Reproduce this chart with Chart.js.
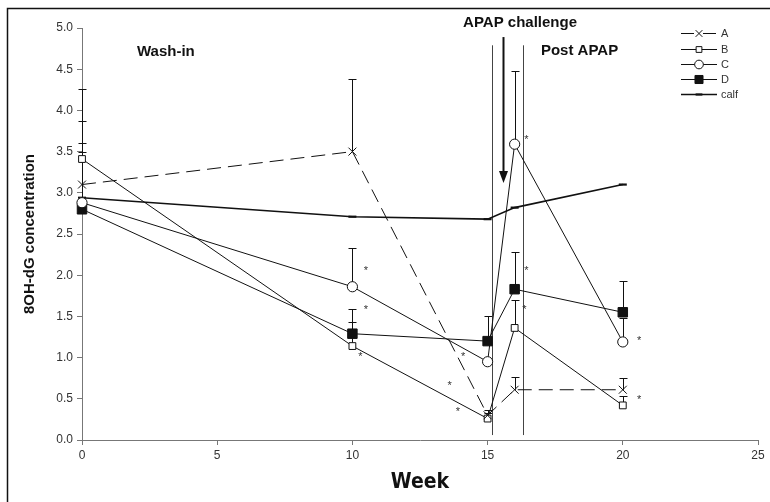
<!DOCTYPE html>
<html>
<head>
<meta charset="utf-8">
<script src="https://cdn.jsdelivr.net/npm/chart.js@4/dist/chart.umd.min.js"></script>
<style>
  body { margin: 0; background: #fff; }
  #wrap { width: 770px; height: 502px; }
</style>
</head>
<body>
<div id="wrap"><canvas id="line-chart" width="770" height="502"></canvas></div>
<script>
// values
var weeks = [0, 10, 15, 16, 20];
var seriesA = [3.10, 3.50, 0.30, 0.61, 0.61];
var seriesB = [3.41, 1.14, 0.26, 1.36, 0.42];
var seriesC = [2.88, 1.86, 0.95, 3.59, 1.19];
var seriesD = [2.80, 1.29, 1.20, 1.83, 1.55];
var seriesCalf = [2.94, 2.71, 2.68, 2.82, 3.10];

// upper end of the error bars (null = none)
var errA = [4.26, 4.38, 0.37, 0.76, 0.75];
var errB = [3.61, 1.43, 0.33, 1.70, 0.53];
var errC = [3.87, 2.33, null, 4.48, 1.48];
var errD = [3.50, 1.59, 1.50, 2.28, 1.93];

var xTicks = [0, 5, 10, 15, 20, 25];
var yTicks = [0, 0.5, 1, 1.5, 2, 2.5, 3, 3.5, 4, 4.5, 5];

// significance stars (week, value)
var starWeek = [10.5, 10.5, 10.3, 14.1, 13.6, 13.9, 16.43, 16.43, 16.36, 20.6, 20.6];
var starVal = [2.07, 1.60, 1.03, 1.03, 0.68, 0.36, 3.67, 2.08, 1.60, 1.23, 0.51];

// phase markers
var phaseLines = [15.15, 16.32];
var arrowWeek = 15.56;
var phaseText = ['Wash-in', 'APAP challenge', 'Post APAP'];
var phaseTextWeek = [3.1, 16.2, 18.4];
var phaseTextVal = [4.71, 5.06, 4.72];

function pts(ys) {
    var out = [];
    for (var i = 0; i < weeks.length; i++) {
        out.push({ x: weeks[i], y: ys[i] });
    }
    return out;
}

var datasets = [
    { label: 'A', data: pts(seriesA), err: errA, borderDash: [14, 7], pointStyle: 'crossRot', pointRadius: 5.6, pointBackgroundColor: '#fff' },
    { label: 'B', data: pts(seriesB), err: errB, pointStyle: 'rect', pointRadius: 4.8, pointBackgroundColor: '#fff' },
    { label: 'C', data: pts(seriesC), err: errC, pointStyle: 'circle', pointRadius: 5.1, pointBackgroundColor: '#fff' },
    { label: 'D', data: pts(seriesD), err: errD, pointStyle: 'rect', pointRadius: 6.7, pointBackgroundColor: '#111' },
    { label: 'calf', data: pts(seriesCalf), err: null, pointStyle: 'line', pointRadius: 4, pointBorderWidth: 2.2, borderWidth: 1.6, pointBackgroundColor: '#111' }
];
datasets.forEach(function (d) {
    d.borderColor = '#111';
    d.pointBorderColor = '#111';
    if (d.borderWidth === undefined) d.borderWidth = 1;
    if (d.pointBorderWidth === undefined) d.pointBorderWidth = 1;
    d.fill = false;
    d.tension = 0;
    d.clip = false;
});

var extras = {
    id: 'extras',
    beforeDatasetsDraw: function (chart) {
        var ctx = chart.ctx, xs = chart.scales.x, ys = chart.scales.y;
        ctx.save();
        ctx.strokeStyle = '#111';
        ctx.lineWidth = 1;
        // error bars
        datasets.forEach(function (d) {
            if (!d.err) return;
            for (var i = 0; i < weeks.length; i++) {
                if (d.err[i] == null) continue;
                var px = Math.round(xs.getPixelForValue(weeks[i])) + 0.5;
                var y0 = ys.getPixelForValue(d.data[i].y);
                var y1 = Math.round(ys.getPixelForValue(d.err[i])) + 0.5;
                ctx.beginPath();
                ctx.moveTo(px, y0);
                ctx.lineTo(px, y1);
                ctx.moveTo(px - 4, y1);
                ctx.lineTo(px + 4, y1);
                ctx.stroke();
            }
        });
        // phase lines
        ctx.strokeStyle = '#444';
        phaseLines.forEach(function (w) {
            var px = Math.round(xs.getPixelForValue(w)) + 0.5;
            ctx.beginPath();
            ctx.moveTo(px, ys.getPixelForValue(4.79));
            ctx.lineTo(px, ys.getPixelForValue(0.06));
            ctx.stroke();
        });
        // arrow
        var ax = Math.round(xs.getPixelForValue(arrowWeek)) + 0.5;
        var aTop = ys.getPixelForValue(4.89);
        var aTip = ys.getPixelForValue(3.12);
        ctx.strokeStyle = '#111';
        ctx.lineWidth = 2;
        ctx.beginPath();
        ctx.moveTo(ax, aTop);
        ctx.lineTo(ax, aTip - 10);
        ctx.stroke();
        ctx.fillStyle = '#111';
        ctx.beginPath();
        ctx.moveTo(ax - 4.5, aTip - 12);
        ctx.lineTo(ax + 4.5, aTip - 12);
        ctx.lineTo(ax, aTip);
        ctx.closePath();
        ctx.fill();
        ctx.restore();
    },
    afterDraw: function (chart) {
        var ctx = chart.ctx, xs = chart.scales.x, ys = chart.scales.y;
        ctx.save();
        // stars
        ctx.fillStyle = '#333';
        ctx.font = '11px "Liberation Sans", Arial, sans-serif';
        ctx.textAlign = 'center';
        ctx.textBaseline = 'middle';
        for (var i = 0; i < starWeek.length; i++) {
            ctx.fillText('*', xs.getPixelForValue(starWeek[i]), ys.getPixelForValue(starVal[i]) + 2);
        }
        // phase labels
        ctx.fillStyle = '#111';
        ctx.font = 'bold 15px "Liberation Sans", Arial, sans-serif';
        for (var j = 0; j < phaseText.length; j++) {
            ctx.fillText(phaseText[j], xs.getPixelForValue(phaseTextWeek[j]), ys.getPixelForValue(phaseTextVal[j]));
        }
        // legend
        var rowY = [33.5, 49.5, 64.5, 79.5, 94.5];
        ctx.font = '11px "Liberation Sans", Arial, sans-serif';
        ctx.textAlign = 'left';
        datasets.forEach(function (d, k) {
            var y = rowY[k];
            ctx.strokeStyle = '#111';
            ctx.lineWidth = d.borderWidth;
            ctx.setLineDash(d.borderDash ? [13, 9] : []);
            ctx.beginPath();
            ctx.moveTo(681, y);
            ctx.lineTo(717, y);
            ctx.stroke();
            ctx.setLineDash([]);
            ctx.fillStyle = d.pointBackgroundColor;
            ctx.lineWidth = d.pointBorderWidth;
            Chart.helpers.drawPoint(ctx, { pointStyle: d.pointStyle, radius: d.pointRadius * 0.85, rotation: 0, borderWidth: d.pointBorderWidth }, 699, y);
            ctx.fillStyle = '#333';
            ctx.fillText(d.label, 721, y + 0.5);
        });
        // figure frame
        ctx.strokeStyle = '#111';
        ctx.lineWidth = 1.5;
        ctx.beginPath();
        ctx.moveTo(7.5, 502);
        ctx.lineTo(7.5, 8.5);
        ctx.lineTo(770, 8.5);
        ctx.stroke();
        ctx.restore();
    }
};

var tickFont = { family: '"Liberation Sans", Arial, sans-serif', size: 12 };

new Chart(document.getElementById('line-chart'), {
    type: 'line',
    data: { datasets: datasets },
    options: {
        responsive: false,
        animation: false,
        layout: { padding: { top: 28, right: 12, left: 0, bottom: 0 } },
        plugins: { legend: { display: false }, tooltip: { enabled: false } },
        scales: {
            x: {
                type: 'linear', min: 0, max: 25,
                afterBuildTicks: function (s) { s.ticks = xTicks.map(function (v) { return { value: v }; }); },
                afterFit: function (s) { s.height = 62; },
                ticks: { font: tickFont, color: '#333', padding: 3 },
                grid: { drawOnChartArea: false, tickLength: 5, color: '#777' },
                border: { color: '#777' },
                title: { display: true, text: 'Week', color: '#111', padding: { top: 0, bottom: 7 },
                    font: { family: '"DejaVu Sans Condensed", "DejaVu Sans", sans-serif', size: 21, weight: 'bold' } }
            },
            y: {
                min: 0, max: 5,
                afterBuildTicks: function (s) { s.ticks = yTicks.map(function (v) { return { value: v }; }); },
                afterFit: function (s) { s.width = 82; },
                ticks: { font: tickFont, color: '#333', padding: 4, callback: function (v) { return v.toFixed(1); } },
                grid: { drawOnChartArea: false, tickLength: 5, color: '#777' },
                border: { color: '#777' },
                title: { display: true, text: '8OH-dG concentration', color: '#111', padding: { top: 21, bottom: 0 },
                    font: { family: '"Liberation Sans", Arial, sans-serif', size: 15, weight: 'bold' } }
            }
        }
    },
    plugins: [extras]
});
</script>
</body>
</html>
